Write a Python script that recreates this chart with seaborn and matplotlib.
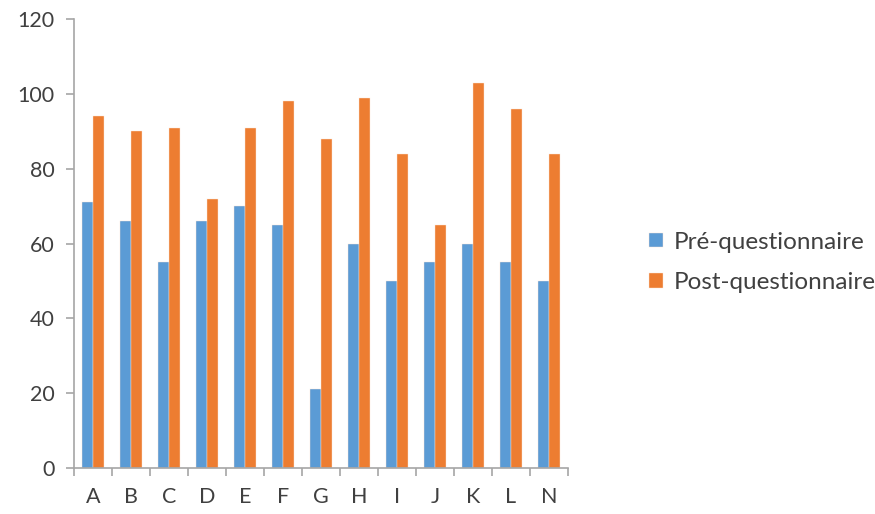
import matplotlib
matplotlib.use("Agg")
import matplotlib.pyplot as plt
from matplotlib.ticker import FixedLocator
import pandas as pd
import seaborn as sns

categories = ["A", "B", "C", "D", "E", "F", "G", "H", "I", "J", "K", "L", "N"]
pre_values = [71, 66, 55, 66, 70, 65, 21, 60, 50, 55, 60, 55, 50]
post_values = [94, 90, 91, 72, 91, 98, 88, 99, 84, 65, 103, 96, 84]
series_names = ["Pré-questionnaire", "Post-questionnaire"]
y_ticks = [0, 20, 40, 60, 80, 100, 120]

df = pd.DataFrame({
    "categorie": categories * 2,
    "score": pre_values + post_values,
    "serie": [series_names[0]] * len(categories) + [series_names[1]] * len(categories),
})

sns.set_theme(style="white")
plt.rcParams["font.family"] = ["Lato", "DejaVu Sans"]

fig = plt.figure(figsize=(8.75, 5.14), dpi=100)
ax = fig.add_axes([0.0846, 0.0895, 0.5645, 0.8735])

palette = {series_names[0]: "#5b9bd5", series_names[1]: "#ed7d31"}
sns.barplot(data=df, x="categorie", y="score", hue="serie", order=categories,
            hue_order=series_names, palette=palette, width=0.57, gap=0,
            edgecolor="#fbe3d4", linewidth=0.3, saturation=1, ax=ax)

axis_grey = "#a6a6a6"
text_col = "#404040"

ax.set_ylim(0, 120)
ax.set_xlim(-0.5, len(categories) - 0.5)
ax.set_yticks(y_ticks)
ax.set_xlabel("")
ax.set_ylabel("")

for side in ("top", "right"):
    ax.spines[side].set_visible(False)
for side in ("left", "bottom"):
    ax.spines[side].set_color(axis_grey)
    ax.spines[side].set_linewidth(1.2)

# Category labels centred, tick marks on the category boundaries
ax.xaxis.set_minor_locator(FixedLocator([i - 0.5 for i in range(len(categories) + 1)]))
ax.tick_params(axis="x", which="major", length=0, pad=14, labelsize=15.5, labelcolor=text_col)
ax.tick_params(axis="x", which="minor", length=6, width=1.2, color=axis_grey, direction="out", bottom=True)
ax.tick_params(axis="y", which="major", length=6, width=1.2, color=axis_grey, direction="out",
               left=True, pad=8, labelsize=15.5, labelcolor=text_col)

ax.legend(loc="center left", bbox_to_anchor=(1.145, 0.458), frameon=False, fontsize=17.5,
          handlelength=0.55, handleheight=0.55, handletextpad=0.45, labelspacing=0.8,
          labelcolor=text_col, borderaxespad=0)

fig.savefig("out.png", dpi=100)
